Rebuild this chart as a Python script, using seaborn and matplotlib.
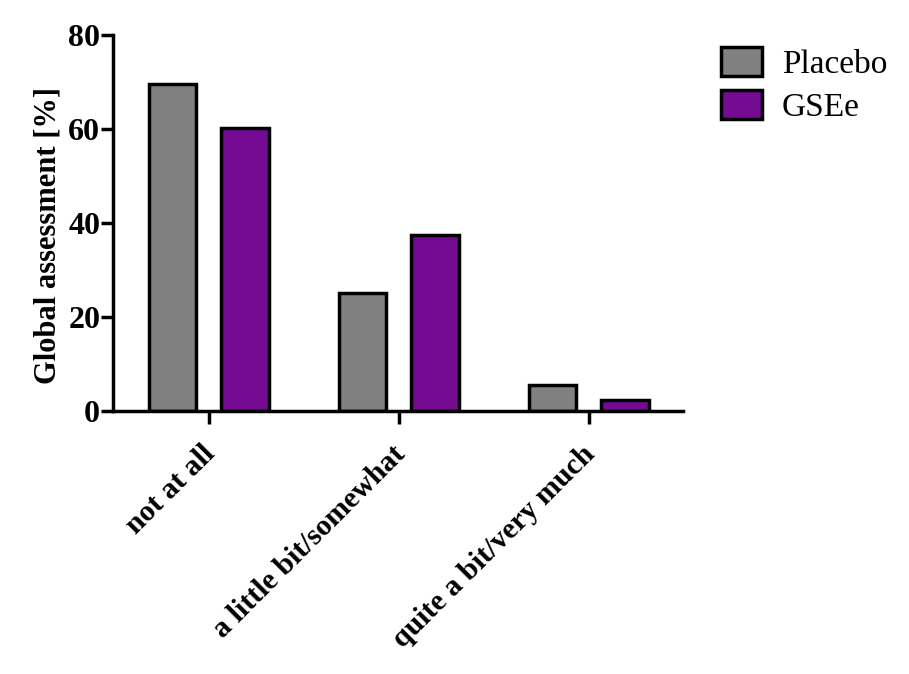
import matplotlib
matplotlib.use("Agg")
import matplotlib.pyplot as plt
import matplotlib.transforms as mtransforms
import seaborn as sns
import pandas as pd

categories = ["not at all", "a little bit/somewhat", "quite a bit/very much"]
groups = ["Placebo", "GSEe"]
placebo_vals = [69.6, 25.1, 5.5]
gsee_vals = [60.2, 37.5, 2.4]
y_ticks = [0, 20, 40, 60, 80]
colors = {"Placebo": "#808080", "GSEe": "#750A93"}

df = pd.DataFrame({
    "category": categories * 2,
    "group": ["Placebo"] * 3 + ["GSEe"] * 3,
    "value": placebo_vals + gsee_vals,
})

sns.set_theme(style="ticks")
plt.rcParams["font.family"] = ["Liberation Serif", "DejaVu Serif"]
for k in ["text.color", "axes.labelcolor", "xtick.color", "ytick.color", "axes.edgecolor"]:
    plt.rcParams[k] = "black"

fig = plt.figure(figsize=(9.09, 6.74), dpi=100)
ax = fig.add_axes([0.124, 0.390, 0.627, 0.558])

sns.barplot(data=df, x="category", y="value", hue="group", hue_order=groups,
            order=categories, palette=colors, width=0.76, gap=0.34,
            saturation=1, edgecolor="black", linewidth=2.5, ax=ax, legend=True)

ax.set_xlim(-0.505, 2.495)
ax.set_ylim(0, 80)
ax.set_yticks(y_ticks)
ax.set_yticklabels([str(v) for v in y_ticks], fontsize=23, fontweight="bold")
ax.set_xticks(range(len(categories)))
ax.set_xticklabels(categories, rotation=45, ha="right", va="top",
                   rotation_mode="anchor", fontsize=21.5, fontweight="bold")
ax.set_xlabel("")
ax.set_ylabel("Global assessment [%]", fontsize=22, fontweight="bold")
ax.yaxis.set_label_coords(-0.088, 0.468)

for s in ["top", "right"]:
    ax.spines[s].set_visible(False)
for s in ["left", "bottom"]:
    ax.spines[s].set_linewidth(2.5)
ax.tick_params(axis="both", width=2.5, length=9, direction="out")
ax.tick_params(axis="x", pad=12)
ax.tick_params(axis="y", pad=0)

handles, labels = ax.get_legend_handles_labels()
ax.legend(handles, labels, loc="upper left", bbox_to_anchor=(1.014, 1.047),
          frameon=False, fontsize=24, handlelength=1.23, handleheight=0.95,
          handletextpad=0.6, labelspacing=0.3, borderpad=0.4)

fig.canvas.draw()
offset = mtransforms.ScaledTranslation(-7 / 100, 0, fig.dpi_scale_trans)
for tick in ax.xaxis.get_major_ticks():
    tick.label1.set_transform(tick.label1.get_transform() + offset)

fig.savefig("out.png", dpi=100, facecolor="white")
